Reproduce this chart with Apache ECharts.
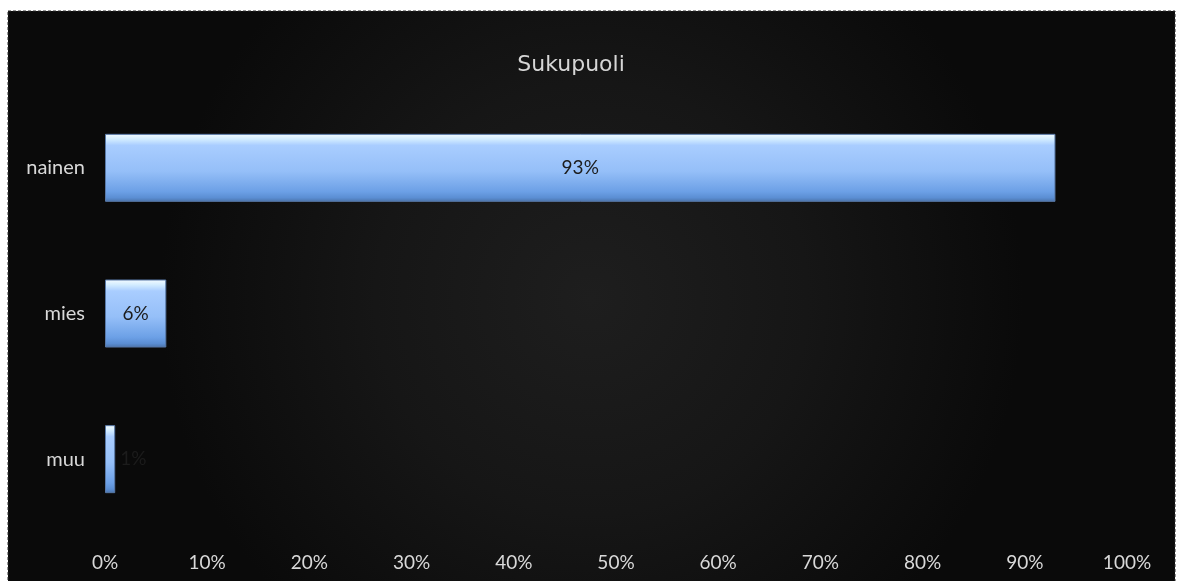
<!DOCTYPE html>
<html>
<head>
<meta charset="utf-8">
<script src="https://cdn.jsdelivr.net/npm/echarts@6/dist/echarts.min.js"></script>
<style>
html,body{margin:0;padding:0;background:#ffffff;}
#chart{width:1181px;height:581px;}
</style>
</head>
<body>
<div id="chart"></div>
<script>
const titleText = 'Sukupuoli';
const categories = ['nainen', 'mies', 'muu'];
const values = [93, 6, 1];
const labelPositions = ['inside', 'inside', 'right'];

const chart = echarts.init(document.getElementById('chart'), null, {renderer: 'canvas'});

const barGradient = new echarts.graphic.LinearGradient(0, 0, 0, 1, [
  {offset: 0, color: '#f4fcff'},
  {offset: 0.08, color: '#d2ecff'},
  {offset: 0.17, color: '#a9cdff'},
  {offset: 0.55, color: '#95bff8'},
  {offset: 0.85, color: '#6c a0e6'.replace(' ', '')},
  {offset: 0.94, color: '#5b8ed3'},
  {offset: 1, color: '#4b73a9'}
]);

const option = {
  backgroundColor: '#ffffff',
  graphic: [{
    type: 'rect',
    z: -10,
    silent: true,
    shape: {x: 8, y: 11, width: 1167, height: 575},
    style: {
      fill: new echarts.graphic.RadialGradient(0.5, 0.5, 0.75, [
        {offset: 0, color: '#1e1e1e'},
        {offset: 0.5, color: '#161616'},
        {offset: 1, color: '#0a0a0a'}
      ]),
      stroke: '#2c2c2c',
      lineWidth: 1,
      lineDash: [3, 2]
    }
  }],
  title: {
    text: titleText,
    left: 566,
    top: 49,
    textAlign: 'center',
    textStyle: {
      color: '#d6d6d6',
      fontFamily: 'DejaVu Sans',
      fontWeight: 'normal',
      fontSize: 22
    }
  },
  grid: {left: 105, right: 54, top: 95, bottom: 49, containLabel: false},
  xAxis: {
    type: 'value',
    min: 0,
    max: 100,
    interval: 10,
    axisLine: {show: false},
    axisTick: {show: false},
    splitLine: {show: false},
    axisLabel: {
      formatter: '{value}%',
      color: '#d9d9d9',
      fontFamily: 'Lato',
      fontSize: 19,
      margin: 21
    }
  },
  yAxis: {
    type: 'category',
    data: categories,
    inverse: true,
    axisLine: {show: false},
    axisTick: {show: false},
    splitLine: {show: false},
    axisLabel: {
      color: '#d9d9d9',
      fontFamily: 'Lato',
      fontSize: 20,
      margin: 20
    }
  },
  series: [{
    type: 'bar',
    barWidth: 68,
    data: values.map((v, i) => ({
      value: v,
      label: {position: labelPositions[i], distance: 5}
    })),
    itemStyle: {
      color: barGradient,
      borderColor: '#5879a8',
      borderWidth: 1
    },
    label: {
      show: true,
      formatter: '{c}%',
      color: '#1c1c1c',
      fontFamily: 'Lato',
      fontSize: 19
    }
  }]
};
chart.setOption(option);
</script>
</body>
</html>
